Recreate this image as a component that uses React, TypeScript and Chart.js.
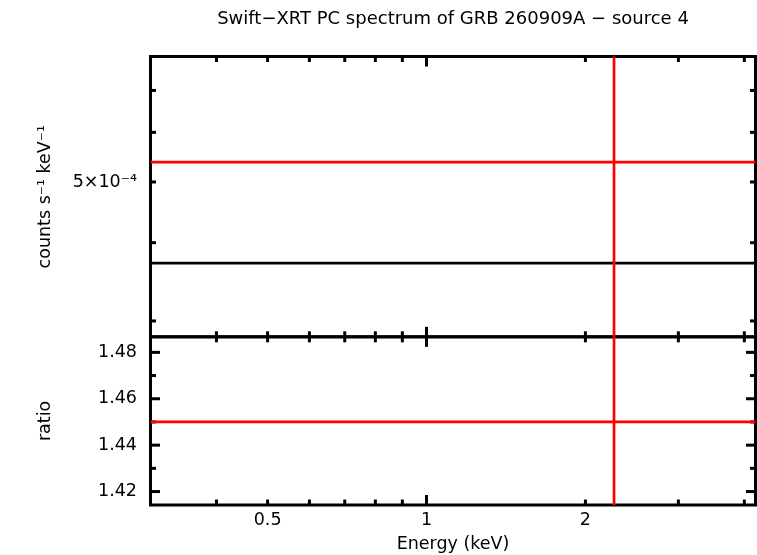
import { useEffect, useRef } from 'react';
import { Chart, registerables, type Plugin, type Scale } from 'chart.js';

Chart.register(...registerables);

const FONT = "'DejaVu Sans', 'Liberation Sans', sans-serif";
const RED = '#ff0000';
const BLACK = '#000000';

const chartTitle = 'Swift−XRT PC spectrum of GRB 260909A − source 4';

// energy axis (keV)
const energyMin = 0.3;
const energyMax = 4.2;
const energyTicks = [0.4, 0.5, 0.6, 0.7, 0.8, 0.9, 1, 2, 3, 4];
const energyLabels = ['', '0.5', '', '', '', '', '1', '2', '', ''];
const energyMajor = [1];

// counts panel (log)
const rateMin = 2.83e-4;
const rateMax = 7.93e-4;
const rateTicks = [3e-4, 4e-4, 5e-4, 6e-4, 7e-4];
const rateLabels = ['', '', '5×10⁻⁴', '', ''];

// ratio panel
const ratioMin = 1.4142;
const ratioMax = 1.4867;
const ratioTicks = [1.42, 1.43, 1.44, 1.45, 1.46, 1.47, 1.48];
const ratioLabels = ['1.42', '', '1.44', '', '1.46', '', '1.48'];
const ratioMajor = [1.42, 1.44, 1.46, 1.48];

// the one spectral bin
const binLo = [0.3];
const binHi = [10];
const binCentre = [2.266];
const rate = [5.38e-4];
const rateErr = [5.3e-4];
const model = [3.71e-4];
const ratio = [1.45];
const ratioErr = [1.43];

const bins = binCentre.map((_, i) => i);

const segment = (
  label: string,
  yAxisID: string,
  color: string,
  order: number,
  from: [number, number],
  to: [number, number]
) => ({
  label,
  yAxisID,
  xAxisID: 'x',
  order,
  data: [
    { x: from[0], y: from[1] },
    { x: to[0], y: to[1] }
  ],
  showLine: true,
  borderColor: color,
  backgroundColor: color,
  borderWidth: 2.7,
  pointRadius: 0,
  pointHoverRadius: 0
});

const datasets = [
  ...bins.map(i => segment('rate', 'counts', RED, 0, [binLo[i], rate[i]], [binHi[i], rate[i]])),
  ...bins.map(i =>
    segment('rate error', 'counts', RED, 0, [binCentre[i], rate[i] - rateErr[i]], [binCentre[i], rate[i] + rateErr[i]])
  ),
  ...bins.map(i => segment('ratio', 'ratio', RED, 0, [binLo[i], ratio[i]], [binHi[i], ratio[i]])),
  ...bins.map(i =>
    segment('ratio error', 'ratio', RED, 0, [binCentre[i], ratio[i] - ratioErr[i]], [binCentre[i], ratio[i] + ratioErr[i]])
  ),
  ...bins.map(i => segment('model', 'counts', BLACK, 1, [binLo[i], model[i]], [binHi[i], model[i]]))
];

// keep each dataset inside its own panel
const panelClip: Plugin = {
  id: 'panelClip',
  beforeDatasetDraw(chart, args) {
    const y = chart.scales[args.meta.yAxisID as string];
    const { left, right } = chart.chartArea;
    const { ctx } = chart;
    ctx.save();
    ctx.beginPath();
    ctx.rect(left - 1.5, y.top - 1.5, right - left + 3, y.bottom - y.top + 3);
    ctx.clip();
  },
  afterDatasetDraw(chart) {
    chart.ctx.restore();
  }
};

// boxed panels with inward ticks on all four sides
const frames: Plugin = {
  id: 'frames',
  beforeDatasetsDraw(chart) {
    const { ctx } = chart;
    const { left, right } = chart.chartArea;
    const x = chart.scales.x;
    const stroke = (x0: number, y0: number, x1: number, y1: number) => {
      ctx.beginPath();
      ctx.moveTo(x0, y0);
      ctx.lineTo(x1, y1);
      ctx.stroke();
    };
    ctx.save();
    ctx.strokeStyle = BLACK;
    ctx.lineWidth = 3;
    const panels: [Scale, number[]][] = [
      [chart.scales.counts, []],
      [chart.scales.ratio, ratioMajor]
    ];
    for (const [y, major] of panels) {
      ctx.strokeRect(left, y.top, right - left, y.bottom - y.top);
      for (const t of x.ticks) {
        const px = x.getPixelForValue(t.value);
        const len = energyMajor.includes(t.value) ? 10 : 5.5;
        stroke(px, y.top, px, y.top + len);
        stroke(px, y.bottom, px, y.bottom - len);
      }
      for (const t of y.ticks) {
        const py = y.getPixelForValue(t.value);
        const len = major.includes(t.value) ? 9.5 : 5.5;
        stroke(left, py, left + len, py);
        stroke(right, py, right - len, py);
      }
    }
    ctx.restore();
  }
};

const tickFont = { family: FONT, size: 17.5 };

export default function App() {
  const canvasRef = useRef<HTMLCanvasElement>(null);

  useEffect(() => {
    if (!canvasRef.current) return;
    Chart.defaults.color = BLACK;

    const chart = new Chart(canvasRef.current, {
      type: 'scatter',
      data: { datasets },
      plugins: [panelClip, frames],
      options: {
        responsive: false,
        animation: false,
        layout: { padding: { left: 0, right: 1.5, top: 0, bottom: 0 } },
        plugins: {
          legend: { display: false },
          tooltip: { enabled: false },
          title: {
            display: true,
            text: chartTitle,
            fullSize: false,
            color: BLACK,
            font: { family: FONT, size: 18, weight: 'normal' },
            padding: { top: 8.2, bottom: 26.7 }
          }
        },
        scales: {
          ratio: {
            type: 'linear',
            position: 'left',
            stack: 'panels',
            stackWeight: 3,
            min: ratioMin,
            max: ratioMax,
            afterBuildTicks: s => {
              s.ticks = ratioTicks.map(value => ({ value }));
            },
            afterFit: s => {
              s.width = 150.5;
            },
            grid: { display: false, drawTicks: false },
            border: { display: false },
            ticks: {
              autoSkip: false,
              padding: 13.5,
              color: BLACK,
              font: tickFont,
              callback: (_v, i) => ratioLabels[i]
            },
            title: {
              display: true,
              text: 'ratio',
              color: BLACK,
              font: tickFont,
              padding: { top: 35.2, bottom: 0 }
            }
          },
          counts: {
            type: 'logarithmic',
            position: 'left',
            stack: 'panels',
            stackWeight: 5,
            min: rateMin,
            max: rateMax,
            afterBuildTicks: s => {
              s.ticks = rateTicks.map(value => ({ value }));
            },
            afterFit: s => {
              s.width = 150.5;
            },
            grid: { display: false, drawTicks: false },
            border: { display: false },
            ticks: {
              autoSkip: false,
              padding: 13.5,
              color: BLACK,
              font: tickFont,
              callback: (_v, i) => rateLabels[i]
            },
            title: {
              display: true,
              text: 'counts s⁻¹ keV⁻¹',
              color: BLACK,
              font: tickFont,
              padding: { top: 35.2, bottom: 0 }
            }
          },
          x: {
            type: 'logarithmic',
            position: 'bottom',
            min: energyMin,
            max: energyMax,
            afterBuildTicks: s => {
              s.ticks = energyTicks.map(value => ({ value }));
            },
            afterFit: s => {
              s.height = 50;
            },
            grid: { display: false, drawTicks: false },
            border: { display: false },
            ticks: {
              autoSkip: false,
              maxRotation: 0,
              padding: 4.8,
              color: BLACK,
              font: tickFont,
              callback: (_v, i) => energyLabels[i]
            },
            title: {
              display: true,
              text: 'Energy (keV)',
              color: BLACK,
              font: tickFont,
              padding: { top: 0, bottom: 0 }
            }
          }
        }
      }
    });

    return () => chart.destroy();
  }, []);

  return (
    <div style={{ position: 'fixed', left: 0, top: 0, width: 757, height: 555, background: '#fff' }}>
      <canvas ref={canvasRef} width={757} height={555} style={{ display: 'block', width: 757, height: 555 }} />
    </div>
  );
}
